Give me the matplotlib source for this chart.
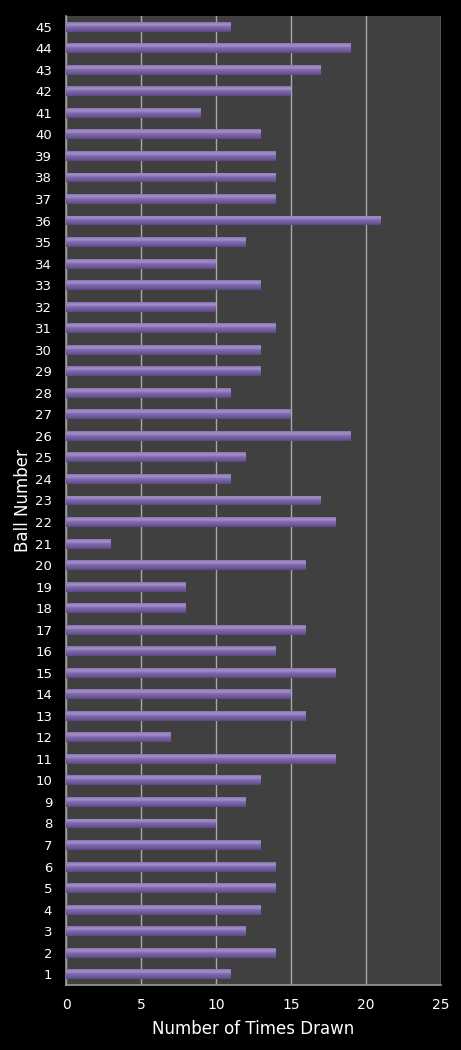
import numpy as np
import matplotlib.pyplot as plt
from matplotlib.colors import LinearSegmentedColormap

# Lotto ball draw counts
balls = list(range(1, 46))
times_drawn = [11, 14, 12, 13, 14, 14, 13, 10, 12, 13,
               18, 7, 16, 15, 18, 14, 16, 8, 8, 16,
               3, 18, 17, 11, 12, 19, 15, 11, 13, 13,
               14, 10, 13, 10, 12, 21, 14, 14, 14, 13,
               9, 15, 17, 19, 11]
x_ticks = [0, 5, 10, 15, 20, 25]

fig = plt.figure(figsize=(4.61, 10.5), dpi=100, facecolor='black')
ax = fig.add_axes([0.1432, 0.0619, 0.8134, 0.9229])
ax.set_facecolor('#404040')

bar_h = 0.46
bars = ax.barh(balls, times_drawn, height=bar_h, color='#6f5a9a', zorder=3)

# shiny bar look: vertical gradient clipped to each bar
shine = LinearSegmentedColormap.from_list(
    'shine', ['#5c4884', '#705b9c', '#8069ad', '#a490cb', '#8a75b4'])
grad = np.linspace(0, 1, 64).reshape(-1, 1)
for b in bars:
    x0, y0 = b.get_x(), b.get_y()
    w, h = b.get_width(), b.get_height()
    im = ax.imshow(grad, cmap=shine, aspect='auto', origin='lower',
                   extent=[x0, x0 + w, y0, y0 + h], zorder=4)
    im.set_clip_path(b)

ax.set_xlim(0, 25)
ax.set_ylim(0.5, 45.5)
ax.set_xticks(x_ticks)
ax.set_yticks(balls)
ax.xaxis.grid(True, color='#a8a8a8', linewidth=1.0, zorder=1)
ax.set_axisbelow(True)

for s in ['top', 'right']:
    ax.spines[s].set_visible(False)
for s in ['left', 'bottom']:
    ax.spines[s].set_color('#9a9a9a')
    ax.spines[s].set_linewidth(1.2)

ax.tick_params(axis='x', colors='white', labelsize=10, length=0, pad=9)
ax.tick_params(axis='y', colors='white', labelsize=9.5, length=0, pad=10)
ax.set_xlabel('Number of Times Drawn', color='white', fontsize=12, labelpad=6)
ax.set_ylabel('Ball Number', color='white', fontsize=12, labelpad=2)

fig.savefig('out.png', dpi=100, facecolor='black')
